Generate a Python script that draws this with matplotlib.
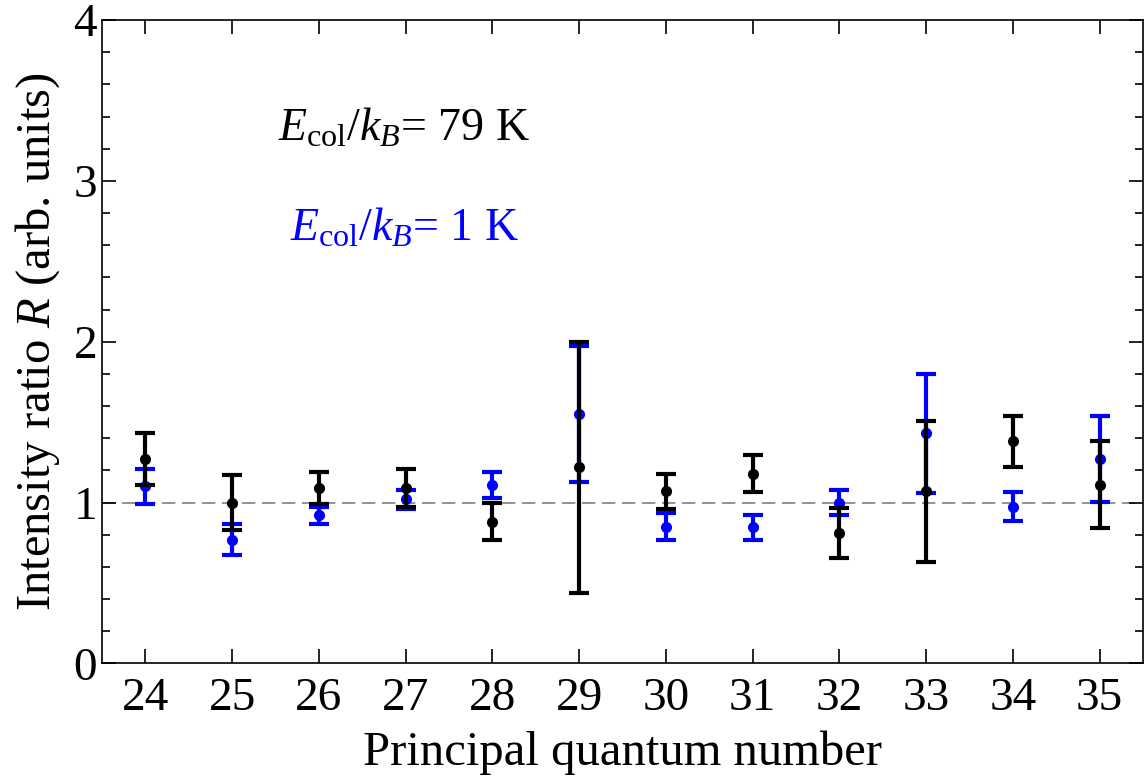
import numpy as np
import matplotlib.pyplot as plt
from matplotlib.ticker import MultipleLocator

plt.rcParams['font.family'] = 'Liberation Serif'
plt.rcParams['mathtext.fontset'] = 'custom'
plt.rcParams['mathtext.rm'] = 'Liberation Serif'
plt.rcParams['mathtext.it'] = 'Liberation Serif:italic'

n = np.arange(24, 36)

# E_col/k_B = 79 K (black)
r_79 = [1.27, 1.00, 1.09, 1.09, 0.88, 1.22, 1.07, 1.18, 0.81, 1.07, 1.38, 1.11]
err_79 = [0.16, 0.17, 0.10, 0.12, 0.115, 0.78, 0.11, 0.115, 0.155, 0.44, 0.16, 0.27]

# E_col/k_B = 1 K (blue)
r_1 = [1.10, 0.77, 0.92, 1.02, 1.11, 1.55, 0.85, 0.845, 1.00, 1.43, 0.975, 1.27]
err_1 = [0.11, 0.095, 0.052, 0.058, 0.08, 0.425, 0.085, 0.077, 0.08, 0.37, 0.09, 0.265]

fig = plt.figure(figsize=(11.48, 7.82), dpi=100)
ax = fig.add_axes([0.0889, 0.1517, 0.9067, 0.8227])

ax.axhline(1, color='gray', lw=1.2, ls=(0, (8, 4)), zorder=1)

ax.errorbar(n, r_1, yerr=err_1, fmt='o', color='blue', ms=7, elinewidth=3,
            capsize=7, capthick=3, zorder=2)
ax.errorbar(n, r_79, yerr=err_79, fmt='o', color='black', ms=7, elinewidth=3,
            capsize=7, capthick=3, zorder=3)

ax.text(25.53, 3.32, r'$E_{\rm col}/k_B$= 79 K', fontsize=33, color='black',
        ha='left', va='center')
ax.text(25.67, 2.70, r'$E_{\rm col}/k_B$= 1 K', fontsize=33, color='blue',
        ha='left', va='center')

ax.set_xlim(23.5, 35.5)
ax.set_ylim(0, 4)
ax.set_xticks(n)
ax.yaxis.set_major_locator(MultipleLocator(1))
ax.yaxis.set_minor_locator(MultipleLocator(0.2))
ax.tick_params(axis='both', which='both', direction='in', top=True, right=True,
               labelsize=34, width=1.2)
ax.tick_params(axis='x', pad=10)
ax.tick_params(which='major', length=10)
ax.tick_params(which='minor', length=6)
for s in ax.spines.values():
    s.set_linewidth(1.2)

ax.set_xlabel('Principal quantum number', fontsize=35, labelpad=8)
ax.set_ylabel(r'Intensity ratio $R$ (arb. units)', fontsize=35, labelpad=8)

fig.savefig('out.png', dpi=100)
